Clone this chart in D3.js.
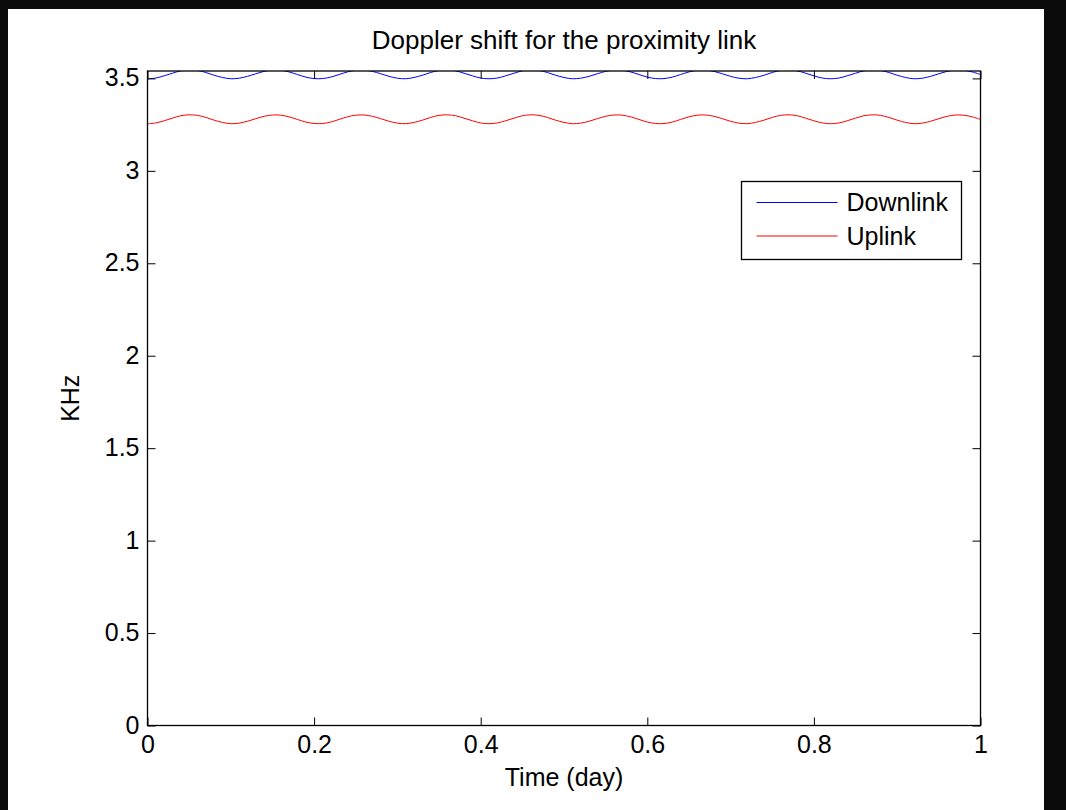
<!DOCTYPE html>
<html>
<head>
<meta charset="utf-8">
<script src="https://cdn.jsdelivr.net/npm/d3@7"></script>
<style>
  html, body { margin: 0; padding: 0; background: #0b0b0b; }
  svg { display: block; }
  text { font-family: "Liberation Sans", Arial, Helvetica, sans-serif; fill: #000; }
</style>
</head>
<body>
<script>
// Sample times (day), 0.01 step
const timeDay = d3.range(0, 101).map(i => +(i / 100).toFixed(2));

// Downlink Doppler shift (kHz)
const downlink = [
  3.498, 3.502, 3.514, 3.528, 3.541, 3.546, 3.543, 3.532, 3.517, 3.505,
  3.498, 3.501, 3.511, 3.525, 3.538, 3.545, 3.544, 3.535, 3.521, 3.507,
  3.499, 3.499, 3.507, 3.521, 3.535, 3.544, 3.545, 3.538, 3.525, 3.511,
  3.501, 3.498, 3.505, 3.517, 3.532, 3.543, 3.546, 3.541, 3.528, 3.514,
  3.502, 3.498, 3.502, 3.514, 3.528, 3.541, 3.546, 3.543, 3.532, 3.517,
  3.505, 3.498, 3.501, 3.511, 3.525, 3.538, 3.545, 3.544, 3.535, 3.521,
  3.507, 3.499, 3.499, 3.507, 3.521, 3.535, 3.544, 3.545, 3.538, 3.525,
  3.511, 3.501, 3.498, 3.505, 3.517, 3.532, 3.543, 3.546, 3.541, 3.528,
  3.514, 3.502, 3.498, 3.502, 3.514, 3.528, 3.541, 3.546, 3.543, 3.532,
  3.517, 3.505, 3.498, 3.501, 3.511, 3.525, 3.538, 3.545, 3.544, 3.535,
  3.521
];

// Uplink Doppler shift (kHz)
const uplink = [
  3.255, 3.259, 3.271, 3.285, 3.298, 3.303, 3.300, 3.289, 3.274, 3.262,
  3.255, 3.258, 3.268, 3.282, 3.295, 3.302, 3.301, 3.292, 3.278, 3.264,
  3.256, 3.256, 3.264, 3.278, 3.292, 3.301, 3.302, 3.295, 3.282, 3.268,
  3.258, 3.255, 3.262, 3.274, 3.289, 3.300, 3.303, 3.298, 3.285, 3.271,
  3.259, 3.255, 3.259, 3.271, 3.285, 3.298, 3.303, 3.300, 3.289, 3.274,
  3.262, 3.255, 3.258, 3.268, 3.282, 3.295, 3.302, 3.301, 3.292, 3.278,
  3.264, 3.256, 3.256, 3.264, 3.278, 3.292, 3.301, 3.302, 3.295, 3.282,
  3.268, 3.258, 3.255, 3.262, 3.274, 3.289, 3.300, 3.303, 3.298, 3.285,
  3.271, 3.259, 3.255, 3.259, 3.271, 3.285, 3.298, 3.303, 3.300, 3.289,
  3.274, 3.262, 3.255, 3.258, 3.268, 3.282, 3.295, 3.302, 3.301, 3.292,
  3.278
];

const xTicks = [0, 0.2, 0.4, 0.6, 0.8, 1];
const yTicks = [0, 0.5, 1, 1.5, 2, 2.5, 3, 3.5];
const seriesNames = ["Downlink", "Uplink"];
const seriesColors = ["#0000ff", "#ff0000"];

const W = 1066, H = 810;
const plot = { left: 147.5, right: 980.5, top: 71, bottom: 725.5 };
const fontSize = 25;

const svg = d3.select("body").append("svg")
  .attr("width", W).attr("height", H);

// figure background
svg.append("rect").attr("x", 8).attr("y", 9)
  .attr("width", 1036).attr("height", H - 9).attr("fill", "#fff");

const x = d3.scaleLinear().domain([0, 1]).range([plot.left, plot.right]);
const y = d3.scaleLinear().domain([0, 3.54]).range([plot.bottom, plot.top]);

svg.append("defs").append("clipPath").attr("id", "plotclip")
  .append("rect")
  .attr("x", plot.left).attr("y", plot.top)
  .attr("width", plot.right - plot.left).attr("height", plot.bottom - plot.top);

// data lines
const line = d3.line()
  .x((d, i) => x(timeDay[i]))
  .y(d => y(d))
  .curve(d3.curveCatmullRom);

const gLines = svg.append("g").attr("clip-path", "url(#plotclip)");
[downlink, uplink].forEach((s, k) => {
  gLines.append("path").datum(s)
    .attr("d", line)
    .attr("fill", "none")
    .attr("stroke", seriesColors[k])
    .attr("stroke-width", 1);
});

// axes with inward ticks on all four sides
const tickLen = 8;
const fmt = d => String(d);

const axB = svg.append("g").attr("transform", `translate(0,${plot.bottom})`)
  .call(d3.axisBottom(x).tickValues(xTicks).tickFormat(fmt).tickSizeInner(-tickLen).tickSizeOuter(0).tickPadding(10));
const axT = svg.append("g").attr("transform", `translate(0,${plot.top})`)
  .call(d3.axisTop(x).tickValues(xTicks).tickFormat("").tickSizeInner(-tickLen).tickSizeOuter(0));
const axL = svg.append("g").attr("transform", `translate(${plot.left},0)`)
  .call(d3.axisLeft(y).tickValues(yTicks).tickFormat(fmt).tickSizeInner(-tickLen).tickSizeOuter(0).tickPadding(8));
const axR = svg.append("g").attr("transform", `translate(${plot.right},0)`)
  .call(d3.axisRight(y).tickValues(yTicks).tickFormat("").tickSizeInner(-tickLen).tickSizeOuter(0));

[axB, axT, axL, axR].forEach(a => {
  a.select(".domain").remove();
  a.selectAll("line").attr("stroke", "#000").attr("stroke-width", 1);
  a.selectAll("text").attr("font-size", fontSize).attr("fill", "#000")
    .style("font-family", '"Liberation Sans", Arial, sans-serif');
});
axL.selectAll("text").attr("dy", "0.3em");
axB.selectAll("text").attr("dy", "0.71em");

// axes box
svg.append("rect")
  .attr("x", plot.left).attr("y", plot.top)
  .attr("width", plot.right - plot.left).attr("height", plot.bottom - plot.top)
  .attr("fill", "none").attr("stroke", "#000").attr("stroke-width", 1.3);

// title and axis labels
svg.append("text").attr("x", (plot.left + plot.right) / 2).attr("y", 49)
  .attr("text-anchor", "middle").attr("font-size", 26)
  .text("Doppler shift for the proximity link");

svg.append("text").attr("x", (plot.left + plot.right) / 2).attr("y", 786)
  .attr("text-anchor", "middle").attr("font-size", fontSize)
  .text("Time (day)");

svg.append("text")
  .attr("transform", `translate(79,${(plot.top + plot.bottom) / 2}) rotate(-90)`)
  .attr("text-anchor", "middle").attr("font-size", fontSize)
  .text("KHz");

// legend
const leg = { x: 741.5, y: 181.5, w: 220, h: 78 };
const gLeg = svg.append("g");
gLeg.append("rect").attr("x", leg.x).attr("y", leg.y).attr("width", leg.w).attr("height", leg.h)
  .attr("fill", "#fff").attr("stroke", "#000").attr("stroke-width", 1.3);
seriesNames.forEach((name, k) => {
  const cy = leg.y + 21 + k * 33.5;
  gLeg.append("line").attr("x1", leg.x + 15).attr("x2", leg.x + 96)
    .attr("y1", cy).attr("y2", cy)
    .attr("stroke", seriesColors[k]).attr("stroke-width", 1);
  gLeg.append("text").attr("x", leg.x + 105).attr("y", cy).attr("dy", "0.35em")
    .attr("font-size", fontSize).text(name);
});
</script>
</body>
</html>
